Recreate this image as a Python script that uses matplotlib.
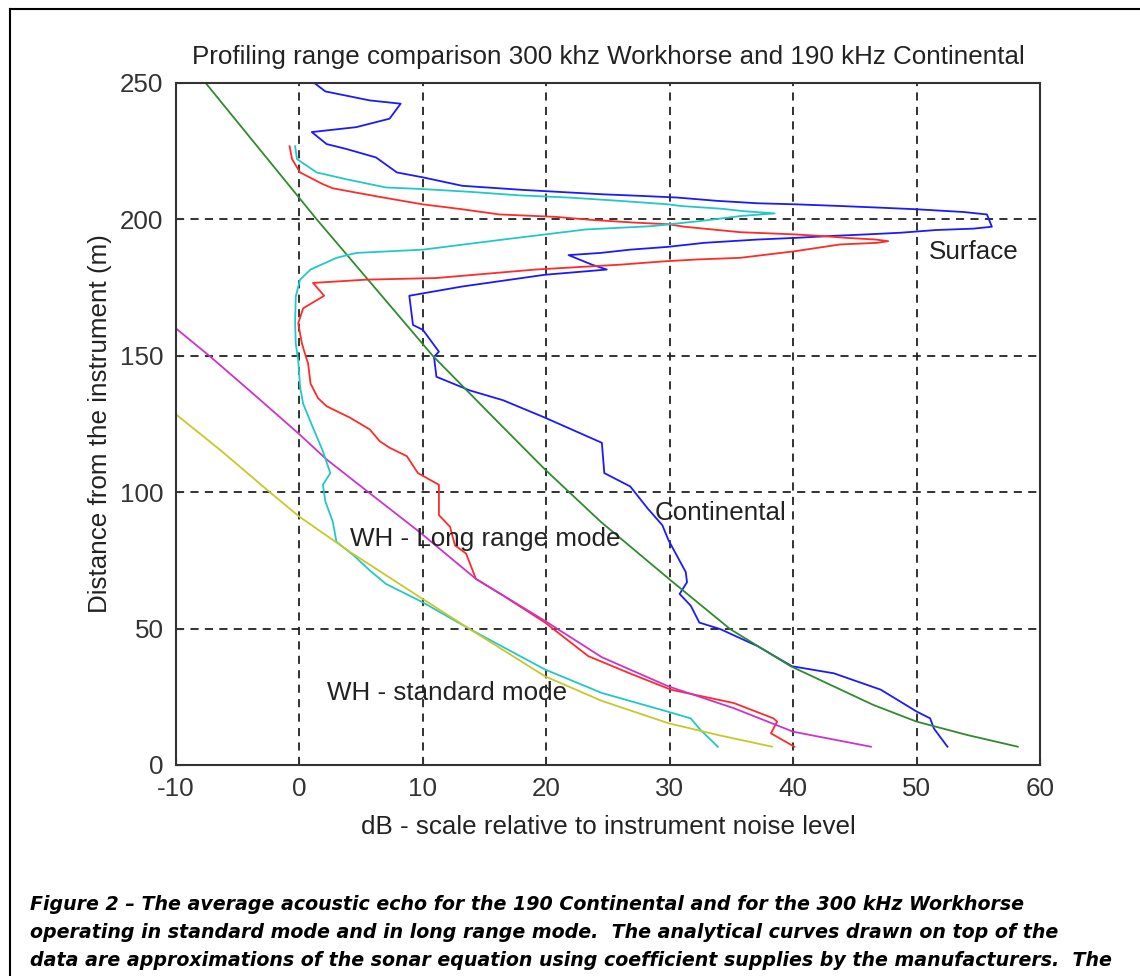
import numpy as np
import matplotlib
matplotlib.use("Agg")
import matplotlib.pyplot as plt
from matplotlib.lines import Line2D

# Continental data (dB, m)
cont_db = [1.2, 2.1, 5.7, 8.2, 7.3, 4.6, 1.0, 2.2, 3.8, 6.2, 7.9, 10.0, 13.2, 18.1,
           24.5, 27.7, 30.6, 33.8, 37.1, 40.3, 43.8, 47.0, 50.0, 53.8, 55.7, 56.1,
           54.6, 51.6, 48.7, 46.0, 43.0, 40.1, 37.1, 32.8, 29.8, 26.8, 24.4, 21.8,
           23.7, 24.9, 19.9, 13.2, 8.9, 9.2, 10.0, 11.3, 10.9, 11.1, 13.8, 16.5,
           19.9, 24.5, 24.7, 26.8, 28.2, 29.4, 29.9, 31.3, 31.4, 30.8, 31.7, 32.4,
           34.1, 37.1, 39.9, 43.3, 47.1, 50.0, 51.1, 51.4, 52.5]
cont_m = [250.0, 246.9, 243.6, 242.4, 236.9, 233.8, 232.0, 227.6, 225.8, 222.7, 217.2,
          215.4, 212.3, 210.8, 209.2, 208.6, 208.0, 206.8, 205.9, 205.5, 204.9, 204.3,
          203.7, 202.7, 201.8, 197.3, 196.6, 196.1, 195.1, 194.5, 193.9, 193.2, 192.6,
          191.4, 189.9, 188.9, 187.7, 186.9, 183.4, 181.6, 179.7, 175.4, 172.0, 161.3,
          159.5, 151.5, 149.6, 142.3, 137.3, 133.7, 127.3, 118.1, 107.0, 102.1, 94.1,
          87.9, 82.4, 70.7, 67.0, 62.7, 58.4, 52.2, 49.8, 43.6, 36.2, 33.6, 27.6,
          19.6, 17.1, 13.4, 6.7]

# WH long range data
lr_db = [-0.8, -0.6, 0.05, 1.9, 2.7, 4.6, 6.8, 10.0, 13.2, 16.2, 20.8, 23.7, 27.2,
         29.9, 31.2, 35.7, 40.1, 42.3, 44.4, 46.7, 47.7, 46.8, 43.8, 40.1, 35.7,
         32.2, 29.5, 26.0, 19.1, 11.1, 5.4, 1.1, 2.0, 0.3, -0.1, 0.2, 0.5, 0.7, 0.9,
         1.5, 2.2, 4.1, 5.7, 6.5, 7.3, 8.7, 9.6, 11.3, 11.3, 12.2, 12.6, 13.5, 14.3,
         16.5, 19.9, 23.4, 26.7, 30.1, 35.2, 38.4, 38.7, 38.2, 40.1]
lr_m = [226.8, 222.1, 217.2, 212.9, 211.4, 209.8, 208.0, 205.5, 203.7, 201.8, 200.9,
        199.8, 198.8, 198.2, 197.3, 195.3, 194.5, 193.9, 193.2, 192.6, 192.0, 191.4,
        190.8, 188.3, 185.9, 185.3, 184.6, 183.4, 181.6, 178.5, 177.9, 176.7, 172.0,
        167.4, 161.9, 154.5, 150.0, 147.2, 139.8, 134.5, 131.5, 127.3, 123.0, 118.7,
        116.3, 113.2, 107.0, 102.7, 91.6, 87.3, 80.5, 77.5, 68.2, 62.1, 52.2, 39.9,
        33.7, 27.6, 22.7, 17.1, 15.9, 11.6, 6.7]

# WH standard mode data
std_db = [-0.35, -0.2, 1.4, 3.8, 7.0, 10.0, 13.8, 17.8, 21.8, 25.9, 29.9, 30.9, 34.2,
          36.0, 38.5, 35.7, 32.5, 28.5, 23.2, 16.5, 10.0, 4.6, 3.0, 0.9, 0.05, -0.3,
          -0.35, -0.3, -0.1, 0.05, 0.3, 1.1, 1.9, 2.5, 1.9, 2.1, 2.7, 3.0, 4.4, 5.7,
          7.0, 10.0, 13.8, 19.9, 24.5, 29.8, 31.7, 32.5, 33.9]
std_m = [226.8, 222.1, 217.2, 214.7, 211.7, 211.1, 210.1, 208.8, 208.0, 206.8, 205.5,
         204.9, 203.9, 203.0, 202.2, 201.2, 199.4, 197.5, 196.3, 192.6, 188.9, 187.7,
         185.9, 181.6, 177.9, 171.7, 161.9, 154.5, 148.4, 138.6, 132.4, 123.6, 115.0,
         107.0, 102.7, 96.6, 89.2, 81.8, 76.8, 71.3, 66.4, 59.6, 49.8, 35.0, 26.4,
         19.6, 17.1, 12.8, 6.7]

# analytic curves
cont_fit_db = [-7.6, 1.4, 10.8, 15.8, 19.9, 24.4, 30.1, 34.9, 39.8, 46.5, 50.0, 54.1, 58.2]
cont_fit_m = [250.0, 200.0, 150.0, 127.0, 108.3, 89.2, 67.6, 49.8, 36.2, 22.0, 15.9, 11.0, 6.7]

lr_fit_db = [-10.0, -7.2, -3.4, 0.0, 2.2, 5.7, 9.7, 14.3, 19.9, 24.5, 29.9, 35.2, 40.0, 46.3]
lr_fit_m = [160.0, 149.6, 134.7, 121.2, 112.0, 99.6, 85.5, 68.2, 52.8, 39.5, 28.8, 20.8, 12.2, 6.7]

std_fit_db = [-10.0, -6.4, -2.4, 0.0, 4.1, 10.0, 13.8, 19.9, 24.5, 29.9, 33.9, 38.3]
std_fit_m = [128.5, 115.4, 100.0, 91.0, 78.1, 60.8, 49.8, 32.5, 23.5, 15.3, 11.0, 6.7]

plt.rcParams['font.family'] = ['Liberation Sans', 'DejaVu Sans']
plt.rcParams['axes.unicode_minus'] = False
fs = 18.7
tc = '#222222'

fig = plt.figure(figsize=(11.4, 9.76), dpi=100)
ax = fig.add_axes([0.1544, 0.2162, 0.7579, 0.6988])

lw = 1.3
ax.plot(cont_db, cont_m, color='#1a1aff', lw=lw)
ax.plot(cont_fit_db, cont_fit_m, color='#2e8b2e', lw=lw)
ax.plot(lr_db, lr_m, color='#ff2a2a', lw=lw)
ax.plot(lr_fit_db, lr_fit_m, color='#cc33cc', lw=lw)
ax.plot(std_db, std_m, color='#22c8c8', lw=lw)
ax.plot(std_fit_db, std_fit_m, color='#c8c828', lw=lw)

ax.set_xlim(-10, 60)
ax.set_ylim(0, 250)
ax.set_xticks(range(-10, 61, 10))
ax.set_yticks(range(0, 251, 50))
ax.grid(True, color=tc, linestyle=(0, (4.5, 3.5)), linewidth=1.3)
ax.tick_params(direction='in', length=5, labelsize=fs, colors='#333333', pad=9)
for s in ax.spines.values():
    s.set_color('#333333')
    s.set_linewidth(1.5)

ax.set_title("Profiling range comparison 300 khz Workhorse and 190 kHz Continental",
             fontsize=fs, color=tc, pad=14)
ax.set_xlabel("dB - scale relative to instrument noise level", fontsize=fs, color=tc, labelpad=10)
ax.set_ylabel("Distance from the instrument (m)", fontsize=fs, color=tc, labelpad=6)

ax.text(51, 188, "Surface", fontsize=fs, color=tc, va='center')
ax.text(28.8, 92.5, "Continental", fontsize=fs, color=tc, va='center')
ax.text(4.1, 83, "WH - Long range mode", fontsize=fs, color=tc, va='center')
ax.text(2.2, 26.5, "WH - standard mode", fontsize=fs, color=tc, va='center')

# page frame
fig.add_artist(Line2D([10 / 1140, 1.0], [1 - 9 / 976, 1 - 9 / 976], color='black', lw=1.5))
fig.add_artist(Line2D([10 / 1140, 10 / 1140], [0.0, 1 - 9 / 976], color='black', lw=1.5))

caption = ["Figure 2 \u2013 The average acoustic echo for the 190 Continental and for the 300 kHz Workhorse",
           "operating in standard mode and in long range mode.  The analytical curves drawn on top of the",
           "data are approximations of the sonar equation using coefficient supplies by the manufacturers.  The"]
for i, line in enumerate(caption):
    fig.text(30 / 1140, 1 - (910 + 28 * i) / 976, line, fontsize=13.7, fontweight='bold',
             fontstyle='italic', family='DejaVu Sans', va='baseline', color='black')

fig.savefig("out.png", dpi=100)
